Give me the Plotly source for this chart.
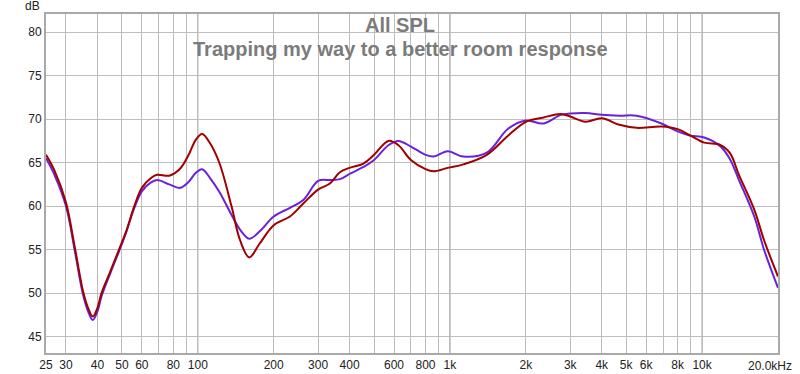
import plotly.graph_objects as go
import numpy as np

# Frequencies (Hz)
freq = [25, 27, 30, 32.5, 35, 36.7, 38.3, 40, 41.5, 45, 48.7, 52, 56, 60, 65, 69, 77, 85, 92, 98, 104,
        112, 122, 136, 147, 160, 176, 200, 232, 262, 300, 334, 366, 400, 454, 500, 570, 625,
        700, 800, 861, 980, 1130, 1400, 1700, 2000, 2350, 2750, 3000, 3450, 4000, 4700, 5500,
        6900, 8000, 9000, 10200, 11800, 12900, 14000, 16100, 17600, 20000]

# Red trace
spl_red = [65.9, 64.1, 60.4, 55.3, 50.3, 48.3, 47.3, 48.3, 50.0, 52.5, 55.0, 57.1, 60.0, 62.1, 63.2, 63.6, 63.5, 64.3, 65.9, 67.6, 68.3,
           67.2, 64.9, 60.0, 56.1, 54.1, 55.7, 57.8, 58.8, 60.3, 61.9, 62.6, 63.9, 64.4, 64.9, 65.9, 67.5, 67.0,
           65.3, 64.25, 64.0, 64.4, 64.8, 65.9, 68.1, 69.7, 70.2, 70.6, 70.3, 69.7, 70.1, 69.35, 69.0,
           69.15, 68.85, 68.1, 67.3, 67.05, 66.1, 63.6, 59.6, 56.1, 51.9]

# Purple trace
spl_purple = [65.5, 63.6, 60.0, 54.9, 49.9, 47.9, 46.9, 47.9, 49.6, 52.3, 54.8, 57.0, 59.8, 61.7, 62.7, 63.0, 62.5, 62.1, 62.8, 63.8, 64.25,
              63.2, 61.6, 59.0, 57.3, 56.25, 57.1, 58.8, 59.8, 60.7, 62.9, 63.0, 63.1, 63.7, 64.5, 65.3, 67.0, 67.5,
              66.85, 65.9, 65.7, 66.3, 65.7, 66.15, 68.9, 69.85, 69.5, 70.5, 70.65, 70.7, 70.5, 70.4, 70.4,
              69.5, 68.6, 68.1, 67.9, 66.9, 65.4, 63.0, 58.8, 55.0, 50.6]

grid_freqs = [30, 40, 50, 60, 70, 80, 90, 100, 200, 300, 400, 500, 600, 700, 800, 900, 1000,
              2000, 3000, 4000, 5000, 6000, 7000, 8000, 9000, 10000]
tick_vals = [25] + grid_freqs
tick_text_map = {25: "25", 30: "30", 40: "40", 50: "50", 60: "60", 80: "80", 100: "100",
                 200: "200", 300: "300", 400: "400", 600: "600", 800: "800", 1000: "1k",
                 2000: "2k", 3000: "3k", 4000: "4k", 5000: "5k", 6000: "6k", 8000: "8k",
                 10000: "10k"}
tick_text = [tick_text_map.get(v, "") for v in tick_vals]
end_label = "20.0kHz"
decades = [100, 1000, 10000]
y_ticks = [45, 50, 55, 60, 65, 70, 75, 80]

FONT = "Liberation Sans, Arial, sans-serif"

# layout geometry (pixels)
W, H = 800, 374
ML, MR, MT, MB = 46, 22, 14, 21
PW, PH = W - ML - MR, H - MT - MB

def px_x(px):
    return (px - ML) / PW

def px_y(py):
    return (H - MB - py) / PH

fig = go.Figure()
fig.add_trace(go.Scatter(x=freq, y=spl_purple, mode="lines",
                         line=dict(color="#6a22d8", width=2, shape="spline", smoothing=1.0),
                         showlegend=False, hoverinfo="skip"))
fig.add_trace(go.Scatter(x=freq, y=spl_red, mode="lines",
                         line=dict(color="#a00000", width=2, shape="spline", smoothing=1.0),
                         showlegend=False, hoverinfo="skip"))

for d in decades:
    fig.add_shape(type="line", xref="x", yref="paper", x0=d, x1=d, y0=0, y1=1,
                  line=dict(color="#8c8c8c", width=1), layer="below")

title_font = dict(family=FONT, size=20, color="#7b7b7b", weight="bold")
fig.update_layout(
    width=W, height=H,
    margin=dict(l=ML, r=MR, t=MT, b=MB),
    paper_bgcolor="white", plot_bgcolor="white",
    font=dict(family=FONT, size=12, color="#222222"),
    xaxis=dict(type="log", range=[np.log10(25), np.log10(20000)],
               tickvals=tick_vals, ticktext=tick_text, tickangle=0, automargin=False,
               showgrid=True, gridcolor="#bdbdbd", gridwidth=1,
               showline=True, mirror=True, linecolor="#a9a9a9", linewidth=2,
               ticks="", zeroline=False, tickfont=dict(size=12, color="#222222")),
    yaxis=dict(range=[43.1, 82.1], tickvals=y_ticks, automargin=False,
               showgrid=True, gridcolor="#bdbdbd", gridwidth=1,
               showline=True, mirror=True, linecolor="#a9a9a9", linewidth=2,
               ticks="", zeroline=False, tickfont=dict(size=12, color="#222222")),
    annotations=[
        dict(text="dB", xref="paper", yref="paper", x=px_x(42), y=px_y(6),
             xanchor="right", yanchor="middle", showarrow=False,
             font=dict(family=FONT, size=12, color="#222222")),
        dict(text=end_label, xref="paper", yref="paper", x=px_x(794), y=px_y(366),
             xanchor="right", yanchor="middle", showarrow=False,
             font=dict(family=FONT, size=12, color="#222222")),
        dict(text="All SPL", xref="paper", yref="paper", x=px_x(400), y=px_y(25),
             xanchor="center", yanchor="middle", showarrow=False, font=title_font),
        dict(text="Trapping my way to a better room response", xref="paper", yref="paper",
             x=px_x(400), y=px_y(49), xanchor="center", yanchor="middle",
             showarrow=False, font=title_font),
    ],
)

fig.write_html("out.html")
